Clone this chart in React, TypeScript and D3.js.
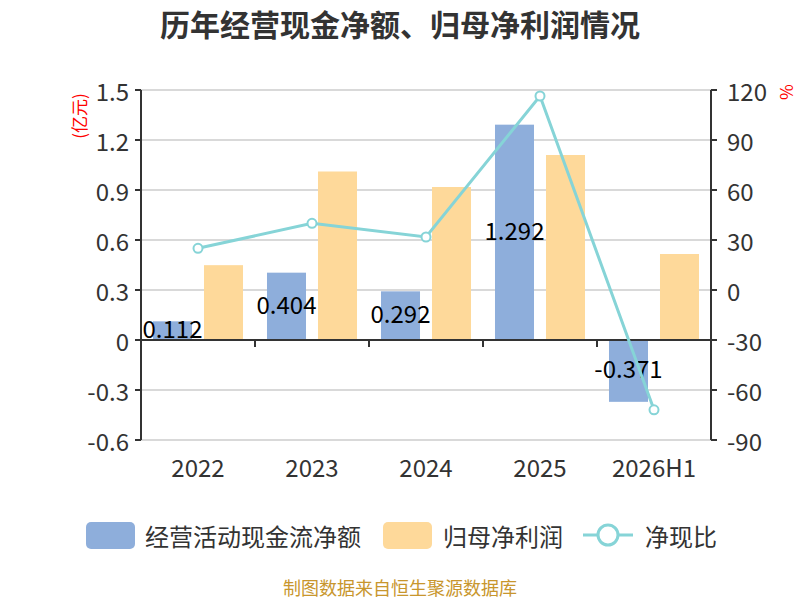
import React from "react";
import * as d3 from "d3";

const categories = ["2022", "2023", "2024", "2025", "2026H1"];
const cashFlow = [0.112, 0.404, 0.292, 1.292, -0.371];
const netProfit = [0.449, 1.011, 0.918, 1.11, 0.516];
const ratio = [25.0, 40.0, 31.8, 116.4, -71.9];
const leftTicks = [-0.6, -0.3, 0, 0.3, 0.6, 0.9, 1.2, 1.5];
const rightTicks = [-90, -60, -30, 0, 30, 60, 90, 120];
const seriesNames = ["经营活动现金流净额", "归母净利润", "净现比"];

const W = 800;
const H = 600;
const FONT = '"Noto Sans CJK SC", "Noto Sans", sans-serif';
const BLUE = "#8eaedb";
const ORANGE = "#fed99a";
const TEAL = "#86d4d7";

const fmt = (v: number, spec: string) => d3.format(spec)(v).replace("\u2212", "-");

export default function App() {
  const left = 141;
  const right = 711;
  const top = 90;
  const bottom = 440;

  const x0 = d3.scaleBand<string>().domain(categories).range([left, right]).padding(0);
  const x1 = d3
    .scaleBand<string>()
    .domain(["cash", "profit"])
    .range([0, x0.bandwidth()])
    .paddingInner(0.235)
    .paddingOuter(0.235);
  const yL = d3.scaleLinear().domain([-0.6, 1.5]).range([bottom, top]);
  const yR = d3.scaleLinear().domain([-90, 120]).range([bottom, top]);
  const zero = yL(0);

  const linePts: [number, number][] = categories.map((c, i) => [
    (x0(c) as number) + x0.bandwidth() / 2,
    yR(ratio[i]),
  ]);
  const lineGen = d3.line();

  const boundaries = categories.slice(1).map((c) => x0(c) as number);

  return (
    <svg
      width={W}
      height={H}
      style={{ position: "absolute", left: 0, top: 0, background: "#fff" }}
      fontFamily={FONT}
    >
      <rect x={0} y={0} width={W} height={H} fill="#fff" />
      <text
        x={400}
        y={23}
        textAnchor="middle"
        dominantBaseline="central"
        fontSize={30}
        fontWeight="bold"
        fill="#333"
      >
        历年经营现金净额、归母净利润情况
      </text>

      {/* grid lines */}
      {leftTicks.map((t) =>
        t === 0 ? null : (
          <line key={"g" + t} x1={left} x2={right} y1={yL(t)} y2={yL(t)} stroke="#cccccc" strokeWidth={1.5} />
        )
      )}

      {/* bars */}
      {categories.map((c, i) => {
        const bx = x0(c) as number;
        const cv = cashFlow[i];
        const pv = netProfit[i];
        return (
          <g key={"b" + c}>
            <rect
              x={bx + (x1("cash") as number)}
              y={Math.min(yL(cv), zero)}
              width={x1.bandwidth()}
              height={Math.abs(yL(cv) - zero)}
              fill={BLUE}
            />
            <rect
              x={bx + (x1("profit") as number)}
              y={Math.min(yL(pv), zero)}
              width={x1.bandwidth()}
              height={Math.abs(yL(pv) - zero)}
              fill={ORANGE}
            />
          </g>
        );
      })}

      {/* x axis at zero */}
      <line x1={left} x2={right} y1={zero} y2={zero} stroke="#333" strokeWidth={2} />
      {boundaries.map((b) => (
        <line key={"xt" + b} x1={b} x2={b} y1={zero} y2={zero + 7} stroke="#333" strokeWidth={2} />
      ))}

      {/* left axis */}
      <line x1={left} x2={left} y1={top} y2={bottom} stroke="#333" strokeWidth={2} />
      {leftTicks.map((t) => (
        <g key={"lt" + t}>
          <line x1={left - 6} x2={left} y1={yL(t)} y2={yL(t)} stroke="#333" strokeWidth={2} />
          <text
            x={left - 12}
            y={yL(t)}
            textAnchor="end"
            dominantBaseline="central"
            fontSize={24}
            fill="#333"
          >
            {t === 0 ? "0" : fmt(t, ".1f")}
          </text>
        </g>
      ))}
      <text
        transform={`translate(78,116) rotate(-90)`}
        textAnchor="middle"
        dominantBaseline="central"
        fontSize={17}
        fill="#ff0000"
      >
        (亿元)
      </text>

      {/* right axis */}
      <line x1={right} x2={right} y1={top} y2={bottom} stroke="#333" strokeWidth={2} />
      {rightTicks.map((t) => (
        <g key={"rt" + t}>
          <line x1={right} x2={right + 6} y1={yR(t)} y2={yR(t)} stroke="#333" strokeWidth={2} />
          <text
            x={right + 16}
            y={yR(t)}
            textAnchor="start"
            dominantBaseline="central"
            fontSize={24}
            fill="#333"
          >
            {fmt(t, "d")}
          </text>
        </g>
      ))}
      <text
        transform={`translate(787,92) rotate(90)`}
        textAnchor="middle"
        dominantBaseline="central"
        fontSize={17}
        fill="#ff0000"
      >
        %
      </text>

      {/* x labels */}
      {categories.map((c) => (
        <text
          key={"xl" + c}
          x={(x0(c) as number) + x0.bandwidth() / 2}
          y={466}
          textAnchor="middle"
          dominantBaseline="central"
          fontSize={24}
          fill="#333"
        >
          {c}
        </text>
      ))}

      {/* bar labels */}
      {categories.map((c, i) => {
        const bx = (x0(c) as number) + (x1("cash") as number) + x1.bandwidth() / 2;
        const cy = (yL(cashFlow[i]) + zero) / 2 - 3;
        return (
          <text
            key={"bl" + c}
            x={bx}
            y={cy}
            textAnchor="middle"
            dominantBaseline="central"
            fontSize={24}
            fill="#000"
          >
            {fmt(cashFlow[i], ".3f")}
          </text>
        );
      })}

      {/* line */}
      <path d={lineGen(linePts) as string} fill="none" stroke={TEAL} strokeWidth={3} />
      {linePts.map((p, i) => (
        <circle key={"pt" + i} cx={p[0]} cy={p[1]} r={4.5} fill="#fff" stroke={TEAL} strokeWidth={2} />
      ))}

      {/* legend */}
      <g>
        <rect x={86} y={522} width={49} height={27} rx={5} fill={BLUE} />
        <text x={145} y={535} dominantBaseline="central" fontSize={24} fill="#333">
          {seriesNames[0]}
        </text>
        <rect x={383} y={522} width={49} height={27} rx={5} fill={ORANGE} />
        <text x={443} y={535} dominantBaseline="central" fontSize={24} fill="#333">
          {seriesNames[1]}
        </text>
        <line x1={583} x2={633} y1={535} y2={535} stroke={TEAL} strokeWidth={3} />
        <circle cx={608} cy={535} r={10} fill="#fff" stroke={TEAL} strokeWidth={3} />
        <text x={645} y={535} dominantBaseline="central" fontSize={24} fill="#333">
          {seriesNames[2]}
        </text>
      </g>

      <text x={400} y={587} textAnchor="middle" dominantBaseline="central" fontSize={18} fill="#c8962d">
        制图数据来自恒生聚源数据库
      </text>
    </svg>
  );
}
